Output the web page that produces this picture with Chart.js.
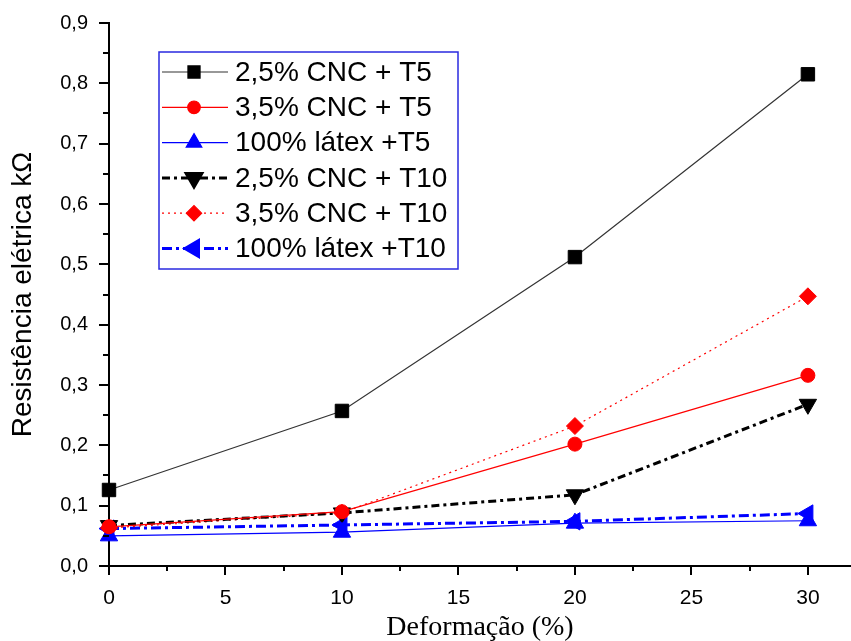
<!DOCTYPE html>
<html>
<head>
<meta charset="utf-8">
<script src="https://cdn.jsdelivr.net/npm/chart.js@4/dist/chart.umd.min.js"></script>
<style>
  html, body { margin: 0; padding: 0; background: #fff; }
  #wrap { width: 851px; height: 641px; }
</style>
</head>
<body>
<div id="wrap"><canvas id="chart" width="851" height="641"></canvas></div>
<script>
// deformation (%) on the x axis
const deformacao = [0, 10, 20, 30];

// electrical resistance (kΩ) per sample
const cnc25T5 = [0.126, 0.257, 0.512, 0.815];
const cnc35T5 = [0.065, 0.090, 0.202, 0.316];
const latexT5 = [0.050, 0.056, 0.071, 0.075];
const cnc25T10 = [0.067, 0.088, 0.118, 0.268];
const cnc35T10 = [0.063, 0.088, 0.232, 0.447];
const latexT10 = [0.062, 0.068, 0.074, 0.087];

const seriesLabels = [
  '2,5% CNC + T5',
  '3,5% CNC + T5',
  '100% látex +T5',
  '2,5% CNC + T10',
  '3,5% CNC + T10',
  '100% látex +T10',
];

const yTicks = [0, 0.1, 0.2, 0.3, 0.4, 0.5, 0.6, 0.7, 0.8, 0.9];
const xTicks = [0, 5, 10, 15, 20, 25, 30];

const SANS = '"Liberation Sans", Arial, sans-serif';
const SERIF = '"Liberation Serif", "Times New Roman", serif';

function points(values) {
  return values.map((v, i) => ({ x: deformacao[i], y: v }));
}

function makeSet(label, values, color, lineColor, style, radius, width, dash, rotation) {
  return {
    label: label,
    data: points(values),
    borderColor: lineColor,
    backgroundColor: color,
    pointBackgroundColor: color,
    pointBorderColor: color,
    pointBorderWidth: 1,
    pointStyle: style,
    pointRadius: radius,
    pointRotation: rotation || 0,
    borderWidth: width,
    borderDash: dash,
    tension: 0,
    clip: false,
  };
}

const datasets = [
  makeSet(seriesLabels[0], cnc25T5, '#000', '#333', 'rect', 9.5, 1.2, []),
  makeSet(seriesLabels[1], cnc35T5, '#ff0000', '#ff0000', 'circle', 7, 1.2, []),
  makeSet(seriesLabels[2], latexT5, '#0000ff', '#0000ff', 'triangle', 10, 1.2, []),
  makeSet(seriesLabels[3], cnc25T10, '#000', '#000', 'triangle', 10, 3, [8, 4, 3, 4], 180),
  makeSet(seriesLabels[4], cnc35T10, '#ff0000', '#ff0000', 'rectRot', 8.5, 1.2, [2, 4]),
  makeSet(seriesLabels[5], latexT10, '#0000ff', '#0000ff', 'triangle', 10, 3, [10, 4, 3, 4], -90),
];

// keep the plot area where the original has it (no label overhang padding)
function noPadding(scale) {
  scale.paddingTop = 0;
  scale.paddingBottom = 0;
  scale.paddingLeft = 0;
  scale.paddingRight = 0;
}

// minor/major tick marks, drawn outward like the original plot
const tickMarks = {
  id: 'tickMarks',
  afterDraw(chart) {
    const { ctx, scales: { x, y } } = chart;
    const left = chart.chartArea.left;
    const bottom = chart.chartArea.bottom;
    ctx.save();
    ctx.strokeStyle = '#000';
    ctx.lineWidth = 2;
    ctx.beginPath();
    for (let v = 0; v <= 0.9001; v += 0.05) {
      const major = Math.abs(Math.round(v * 10) - v * 10) < 1e-6;
      const py = Math.round(y.getPixelForValue(v));
      ctx.moveTo(left - (major ? 10 : 6), py);
      ctx.lineTo(left, py);
    }
    for (let v = 0; v <= 30.001; v += 2.5) {
      const major = v % 5 === 0;
      const px = Math.round(x.getPixelForValue(v));
      ctx.moveTo(px, bottom);
      ctx.lineTo(px, bottom + (major ? 9 : 5));
    }
    ctx.stroke();
    ctx.restore();
  },
};

// boxed legend with line samples and markers
const boxLegend = {
  id: 'boxLegend',
  afterDraw(chart) {
    const ctx = chart.ctx;
    const bx = 159, by = 52, bw = 299, bh = 217;
    ctx.save();
    ctx.fillStyle = '#fff';
    ctx.fillRect(bx, by, bw, bh);
    ctx.strokeStyle = '#2a2ae0';
    ctx.lineWidth = 1.5;
    ctx.strokeRect(bx, by, bw, bh);
    chart.data.datasets.forEach((ds, i) => {
      const ry = 72 + i * 35.3;
      ctx.strokeStyle = ds.borderColor;
      ctx.lineWidth = ds.borderWidth;
      ctx.setLineDash(ds.borderDash);
      ctx.beginPath();
      ctx.moveTo(162, ry);
      ctx.lineTo(228, ry);
      ctx.stroke();
      ctx.setLineDash([]);
      ctx.fillStyle = ds.pointBackgroundColor;
      ctx.strokeStyle = ds.pointBorderColor;
      Chart.helpers.drawPoint(ctx, {
        pointStyle: ds.pointStyle,
        rotation: ds.pointRotation,
        radius: ds.pointRadius * 0.9,
        borderWidth: 1,
      }, 194, ry);
      ctx.fillStyle = '#000';
      ctx.font = '28px ' + SANS;
      ctx.textBaseline = 'middle';
      ctx.textAlign = 'left';
      ctx.fillText(ds.label, 235, ry + 1);
    });
    ctx.restore();
  },
};

new Chart(document.getElementById('chart'), {
  type: 'line',
  data: { datasets: datasets },
  plugins: [tickMarks, boxLegend],
  options: {
    responsive: false,
    animation: false,
    devicePixelRatio: 1,
    layout: { autoPadding: false, padding: { top: 23, right: 0, left: 0, bottom: 0 } },
    plugins: {
      legend: { display: false },
      tooltip: { enabled: false },
    },
    scales: {
      x: {
        type: 'linear',
        min: 0,
        max: 31.85,
        afterBuildTicks: (scale) => { scale.ticks = xTicks.map((v) => ({ value: v })); },
        afterFit: (scale) => { scale.height = 75; noPadding(scale); },
        grid: { display: false, drawTicks: false, tickLength: 0 },
        border: { display: true, color: '#000', width: 2 },
        ticks: {
          padding: 20,
          color: '#000',
          font: { family: SANS, size: 21 },
          maxRotation: 0,
        },
        title: {
          display: true,
          text: 'Deformação (%)',
          color: '#000',
          font: { family: SERIF, size: 28 },
          padding: { top: 0, bottom: -3 },
        },
      },
      y: {
        min: 0,
        max: 0.9,
        afterBuildTicks: (scale) => { scale.ticks = yTicks.map((v) => ({ value: v })); },
        afterFit: (scale) => { scale.width = 109; noPadding(scale); },
        grid: { display: false, drawTicks: false, tickLength: 0 },
        border: { display: true, color: '#000', width: 2 },
        ticks: {
          padding: 21,
          color: '#000',
          font: { family: SANS, size: 20 },
          callback: (v) => v.toFixed(1).replace('.', ','),
        },
        title: {
          display: true,
          text: 'Resistência elétrica kΩ',
          color: '#000',
          font: { family: SANS, size: 28 },
          padding: { top: 6, bottom: 0 },
        },
      },
    },
  },
});
</script>
</body>
</html>
